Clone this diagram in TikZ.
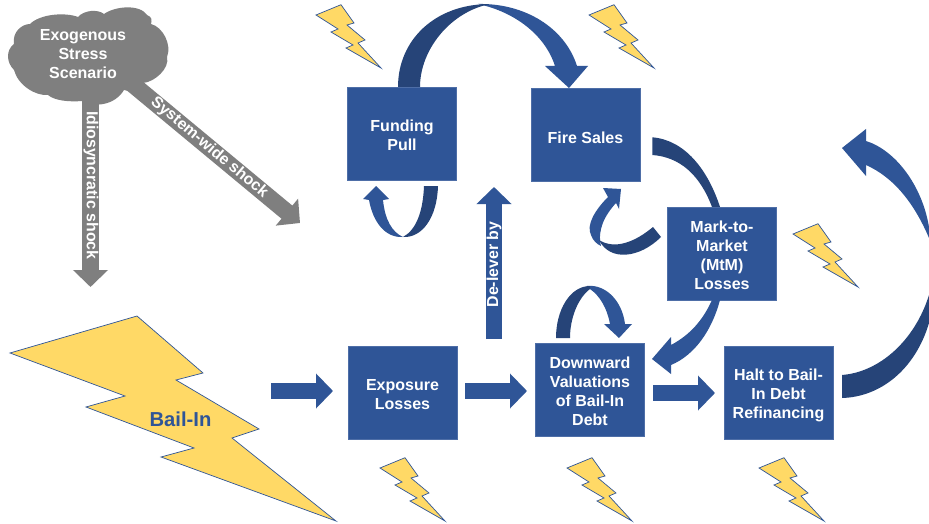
\documentclass[tikz,border=0pt]{standalone}
\usepackage{fontspec}
\setmainfont{Liberation Sans}
\usetikzlibrary{arrows.meta,calc}
\definecolor{boxblue}{HTML}{2F5597}
\definecolor{darkblue}{HTML}{264478}
\definecolor{boltyellow}{HTML}{FFD966}
\definecolor{shockgray}{HTML}{7F7F7F}
\newcommand{\lowered}[2]{\raisebox{-#1}[\height][\depth]{\begin{tabular}{@{}c@{}}#2\end{tabular}}}
\tikzset{
  stepbox/.style={fill=boxblue,draw=boxblue!85!white,line width=0.4pt,minimum width=109pt,minimum height=93pt,inner sep=0pt,text=white,font=\fontsize{16}{19}\selectfont\bfseries},
  boltshape/.style={fill=boltyellow,draw=boxblue,line width=0.7pt,line join=miter},
  bluearrow/.style={draw=boxblue,line width=16pt,-{Triangle[length=17pt,width=34pt]}},
  grayarrow/.style={draw=shockgray,line width=17pt,-{Triangle[length=17pt,width=34pt]}},
  arrowtext/.style={text=white,font=\fontsize{15.9}{19}\selectfont\bfseries,inner sep=0pt},
  frontcurve/.style={fill=boxblue},
  backcurve/.style={fill=darkblue},
  pics/smallbolt/.style={code={
    \draw[boltshape] (0,0) -- (25,-10.3) -- (38,8) -- (31,10) -- (49,25) -- (42,28) -- (65,53) -- (30,33) -- (37,30) -- (15,17) -- (22,14) -- cycle;
  }}
}
\begin{document}
\begin{tikzpicture}[x=1pt,y=-1pt]
\useasboundingbox (0,0) rectangle (929,524);
\fill[white] (0,0) rectangle (929,524);

% gray shock arrows (under the cloud)
\coordinate (idioStart) at (90.5,95);
\coordinate (idioEnd) at (90.5,287);
\coordinate (sysStart) at (132,83.7);
\coordinate (sysEnd) at (300,223);
\draw[grayarrow] (idioStart) -- (idioEnd)
  node[arrowtext,pos=0.47,rotate=-90,xshift=0pt,yshift=0.5pt] (idioText) {Idiosyncratic shock};
\draw[grayarrow] (sysStart) -- (sysEnd)
  node[arrowtext,pos=0.46,rotate=-40] (sysText) {System-wide shock};

% cloud
\fill[shockgray] (14,70) .. controls (6,62) and (6,50) .. (14,44)
  .. controls (12,32) and (22,24) .. (30,24)
  .. controls (40,14) and (65,12) .. (78,17)
  .. controls (84,10) and (98,9) .. (104,14)
  .. controls (115,6) and (140,4) .. (147,15)
  .. controls (152,17) and (152,20) .. (151,24)
  .. controls (163,27) and (172,45) .. (167,57)
  .. controls (170,68) and (155,82) .. (143,83)
  .. controls (140,90) and (130,92) .. (124,90)
  .. controls (115,105) and (95,108) .. (82,101)
  .. controls (70,102) and (55,101) .. (48,95)
  .. controls (35,96) and (18,85) .. (14,70) -- cycle;
\node[align=center,text=white,inner sep=0pt,font=\fontsize{16}{19}\selectfont\bfseries] (cloud) at (83,54) {Exogenous\\Stress\\Scenario};

% big bolt
\draw[boltshape] (10,353) -- (137,316) -- (203,373) -- (176,380) -- (259,429) -- (232,438) -- (336,521) -- (161,457) -- (194,448) -- (86,407) -- (125,396) -- cycle;
\node[text=boxblue,inner sep=0pt,font=\fontsize{20.2}{24}\selectfont\bfseries] (bailin) at (180.5,419) {Bail-In};

% small bolts
\pic (b1) at (316,15) {smallbolt};
\pic (b2) at (589,15) {smallbolt};
\pic (b3) at (793,234) {smallbolt};
\pic (b4) at (380,468) {smallbolt};
\pic (b5) at (567,468) {smallbolt};
\pic (b6) at (759,468) {smallbolt};

% boxes
\node[stepbox] (funding) at (402,133.5) {\lowered{3.5pt}{Funding\\Pull}};
\node[stepbox] (fire) at (585.5,135) {\lowered{4.5pt}{Fire Sales}};
\node[stepbox] (mtm) at (722,253.5) {\lowered{3.5pt}{Mark-to-\\Market\\(MtM)\\Losses}};
\node[stepbox] (exposure) at (402.5,393) {\lowered{3pt}{Exposure\\Losses}};
\node[stepbox] (downward) at (590,390) {\lowered{3pt}{Downward\\Valuations\\of Bail-In\\Debt}};
\node[stepbox] (halt) at (778.5,393) {\lowered{2.5pt}{Halt to Bail-\\In Debt\\Refinancing}};

% straight block arrows
\coordinate (a1s) at (271,391);
\coordinate (a1e) at (333,391);
\coordinate (a2s) at (465,391);
\coordinate (a2e) at (527,391);
\coordinate (a3s) at (653,393);
\coordinate (a3e) at (715,393);
\coordinate (a4s) at (494,339);
\coordinate (a4e) at (494,187);
\draw[bluearrow] (a1s) -- (a1e);
\draw[bluearrow] (a2s) -- (a2e);
\draw[bluearrow] (a3s) -- (a3e);
\draw[bluearrow] (a4s) -- (a4e)
  node[arrowtext,pos=0.49,rotate=90] (delever) {De-lever by};

% Funding -> Fire Sales
\fill[frontcurve] (478,4) .. controls (525,3) and (565,28) .. (577,66) -- (588,66) -- (569,88) -- (545,66) -- (555,66) .. controls (545,35) and (515,12) .. (478,4) -- cycle;
\fill[backcurve] (398,87) .. controls (398,40) and (435,4) .. (490,4) .. controls (450,12) and (420,50) .. (420,87) -- cycle;

% Funding self loop
\fill[frontcurve] (369,200) .. controls (373,222) and (385,238) .. (403,237) .. controls (392,232) and (385,220) .. (383,200) -- (389,199) -- (376,186) -- (363,199) -- cycle;
\fill[backcurve] (438,186) .. controls (437,218) and (422,238) .. (403,237) .. controls (416,230) and (423,212) .. (424,186) -- cycle;

% Fire Sales -> MtM
\fill[backcurve] (652.3,137.3) .. controls (685,140) and (708,170) .. (720,207) -- (712,207) .. controls (700,175) and (680,157) .. (652.3,155) -- cycle;

% MtM -> Downward
\fill[frontcurve] (720,300) .. controls (712,330) and (695,355) .. (671,365) -- (671,374) -- (652,359) -- (671,337) -- (671,345) .. controls (690,335) and (703,320) .. (712,300) -- cycle;

% MtM -> Fire Sales
\fill[frontcurve] (608,197) .. controls (595,210) and (586,225) .. (591,235) .. controls (593,241) and (597,244) .. (601,246) .. controls (597,230) and (605,215) .. (616,203) -- (619,209) -- (621,189) -- (603,188) -- cycle;
\fill[backcurve] (661,237) -- (653,227) .. controls (635,242) and (615,250) .. (599,240) .. controls (610,262) and (640,258) .. (661,237) -- cycle;

% Downward self loop
\fill[frontcurve] (587,286) .. controls (605,284) and (622,300) .. (625,324) -- (632,324) -- (619,338) -- (604,324) -- (610,324) .. controls (607,308) and (600,296) .. (590,289) -- cycle;
\fill[backcurve] (556,338) .. controls (556,310) and (570,286) .. (590,286) -- (590,289) .. controls (578,298) and (570,318) .. (570,338) -- cycle;

% Halt -> up
\fill[frontcurve] (866,141) .. controls (895,150) and (922,185) .. (929,227) -- (929,238) .. controls (915,205) and (895,178) .. (866,165) -- (866,176) -- (842,148) -- (866,129) -- cycle;
\fill[backcurve] (842,375) .. controls (880,372) and (915,340) .. (929,295) -- (929,323) .. controls (915,370) and (880,397) .. (842,398) -- cycle;
\end{tikzpicture}
\end{document}
